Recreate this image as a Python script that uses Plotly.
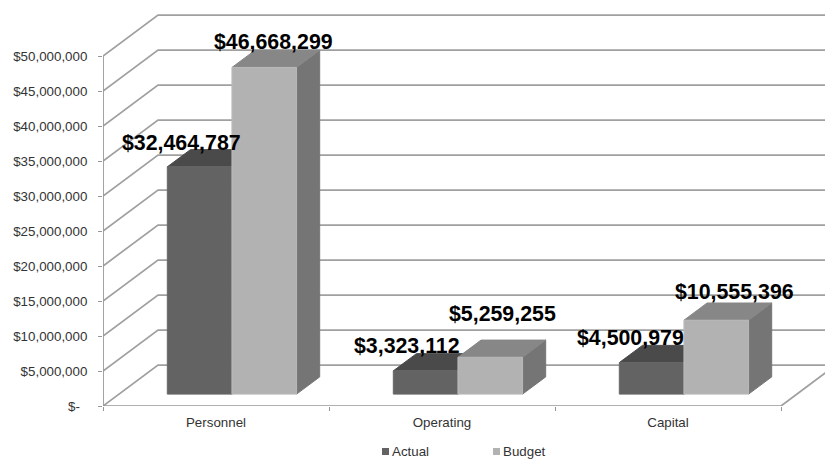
import plotly.graph_objects as go

# Spending by category
categories = ["Personnel", "Operating", "Capital"]
actual = [32464787, 3323112, 4500979]
budget = [46668299, 5259255, 10555396]
y_ticks = [0, 5000000, 10000000, 15000000, 20000000, 25000000,
           30000000, 35000000, 40000000, 45000000, 50000000]
y_labels = ["$-\u00a0\u00a0", "$5,000,000", "$10,000,000", "$15,000,000", "$20,000,000", "$25,000,000",
            "$30,000,000", "$35,000,000", "$40,000,000", "$45,000,000", "$50,000,000"]

# Plot frame: the floor's front edge spans LEFT..RIGHT, the value axis BOTTOM..TOP
W, H = 825, 460
LEFT, RIGHT, TOP, BOTTOM = 103, 781, 56, 406
PX_PER_CATEGORY = (RIGHT - LEFT) / 3
PX_PER_DOLLAR = (BOTTOM - TOP) / 50000000

# Oblique projection of the depth axis
DEPTH_X = 55 / PX_PER_CATEGORY
DEPTH_Y = 41 / PX_PER_DOLLAR
BAR_NEAR, BAR_FAR = 0.29, 0.71     # where the columns sit along the depth
BAR_WIDTH = 0.286                  # one column, in category units

GRID = "#a0a0a0"
AXIS = "#969696"
TEXT = "#333333"
FONT = "Liberation Sans"
SIZE = 13.33


def polyline(points):
    xs = [x + d * DEPTH_X for x, _, d in points]
    ys = [y + d * DEPTH_Y for _, y, d in points]
    return xs, ys


fig = go.Figure()


def line(points, color=GRID, width=1.75):
    xs, ys = polyline(points)
    fig.add_trace(go.Scatter(x=xs, y=ys, mode="lines", line=dict(color=color, width=width),
                             cliponaxis=False, hoverinfo="skip", showlegend=False))


def face(points, color, edge=None):
    xs, ys = polyline(points + points[:1])
    fig.add_trace(go.Scatter(x=xs, y=ys, mode="lines", fill="toself", fillcolor=color,
                             line=dict(color=edge or color, width=1), cliponaxis=False,
                             hoverinfo="skip", showlegend=False))


# Gridlines run across the left wall and along the back wall
for v in y_ticks:
    line([(0, v, 0), (0, v, 1), (3, v, 1)])
line([(3, 0, 0), (3, 0, 1)])

# Front edges of the floor and the left wall
line([(0, 0, 0), (3, 0, 0)], AXIS, 1.5)
line([(0, 0, 0), (0, 50000000, 0)], AXIS, 1.75)


def column(x0, value, front, top, side, edge):
    x1 = x0 + BAR_WIDTH
    face([(x1, 0, BAR_NEAR), (x1, 0, BAR_FAR), (x1, value, BAR_FAR), (x1, value, BAR_NEAR)], side)
    face([(x0, value, BAR_NEAR), (x1, value, BAR_NEAR), (x1, value, BAR_FAR), (x0, value, BAR_FAR)], top)
    face([(x0, 0, BAR_NEAR), (x1, 0, BAR_NEAR), (x1, value, BAR_NEAR), (x0, value, BAR_NEAR)], front, edge)


# name, values, column offset, face colours, label nudges (px right, px up)
SERIES = [
    ("Actual", actual, -BAR_WIDTH, ("#636363", "#4a4a4a", "#545454", "#686868"),
     [(-18.5, 24), (-18.5, 25), (-21.5, 25)]),
    ("Budget", budget, 0.0, ("#b2b2b2", "#878787", "#757575", "#bababa"),
     [(9.5, 25), (12, 43), (18, 28)]),
]

annotations = []
for i in range(len(categories)):
    for name, values, offset, colors, nudges in SERIES:
        x0 = i + 0.5 + offset
        column(x0, values[i], *colors)
        lx, ly = polyline([(x0 + BAR_WIDTH / 2, values[i], BAR_NEAR)])
        annotations.append(dict(x=lx[0], y=ly[0], xref="x", yref="y", xanchor="center", yanchor="middle",
                                xshift=nudges[i][0], yshift=nudges[i][1], showarrow=False,
                                text=f"${values[i]:,}",
                                font=dict(family=FONT, size=21.33, color="#000000", weight="bold")))

# Legend entries along the bottom edge
PLOT_W, PLOT_H = W - LEFT, BOTTOM
shapes = []
for label, sq, tx, color in [("Actual", 382, 391.5, "#636363"), ("Budget", 493, 503, "#b2b2b2")]:
    shapes.append(dict(type="rect", xref="paper", yref="paper",
                       x0=(sq - LEFT) / PLOT_W, x1=(sq + 7 - LEFT) / PLOT_W,
                       y0=(BOTTOM - 455) / PLOT_H, y1=(BOTTOM - 448) / PLOT_H,
                       fillcolor=color, line=dict(width=0)))
    annotations.append(dict(x=(tx - LEFT) / PLOT_W, y=(BOTTOM - 451.5) / PLOT_H,
                            xref="paper", yref="paper", xanchor="left", yanchor="middle",
                            showarrow=False, text=label, borderpad=0, borderwidth=0,
                            font=dict(family=FONT, size=SIZE, color=TEXT)))

fig.update_layout(
    width=W, height=H, margin=dict(l=LEFT, r=0, t=0, b=H - BOTTOM, pad=0),
    paper_bgcolor="white", plot_bgcolor="rgba(0,0,0,0)", showlegend=False,
    font=dict(family=FONT, size=SIZE, color=TEXT),
    annotations=annotations, shapes=shapes,
    xaxis=dict(range=[0, (W - LEFT) / PX_PER_CATEGORY], tickmode="array",
               tickvals=[0.5, 1.5, 2.5], ticktext=categories, ticks="", ticklen=0,
               ticklabelstandoff=7, showgrid=False, zeroline=False, showline=False,
               tickfont=dict(family=FONT, size=SIZE, color=TEXT),
               minor=dict(tickmode="array", tickvals=[0, 1, 2, 3], ticks="outside", ticklen=4,
                          tickcolor=AXIS, tickwidth=1, showgrid=False)),
    yaxis=dict(range=[0, BOTTOM / PX_PER_DOLLAR], tickmode="array", tickvals=y_ticks, ticktext=y_labels,
               ticks="outside", ticklen=4, tickcolor=AXIS, tickwidth=1, showgrid=False,
               zeroline=False, showline=False, ticklabelstandoff=8,
               tickfont=dict(family=FONT, size=SIZE, color=TEXT)),
)

fig.write_html("out.html")
